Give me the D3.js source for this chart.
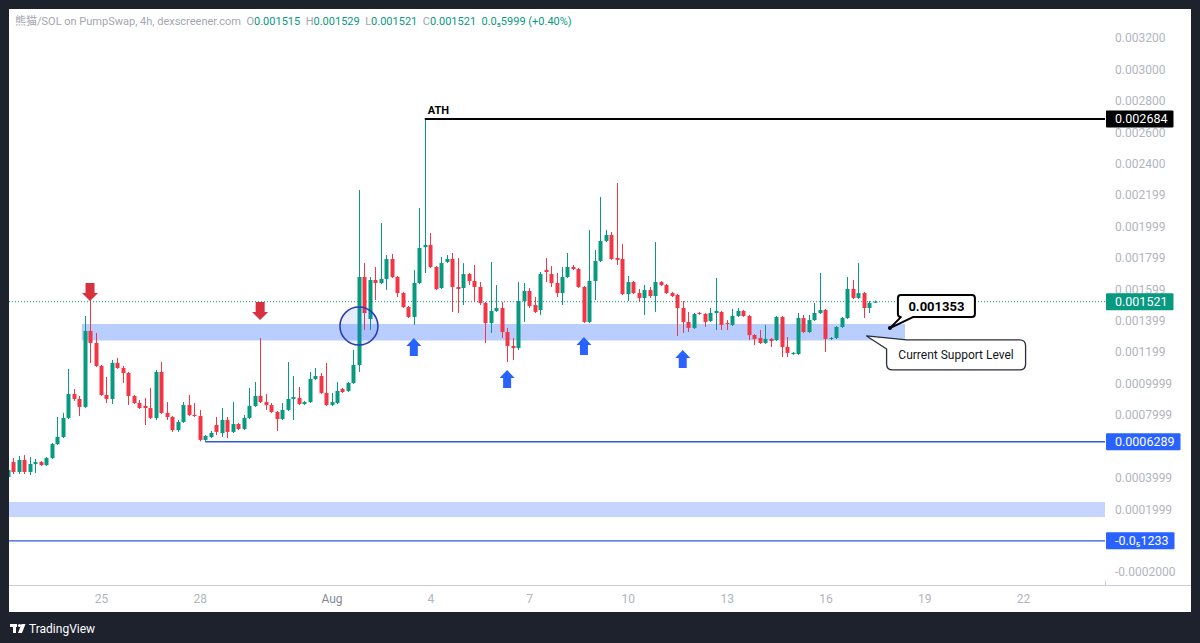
<!DOCTYPE html>
<html><head><meta charset="utf-8">
<script src="https://cdn.jsdelivr.net/npm/d3@7"></script>
<style>
html,body{margin:0;padding:0;background:#1e222d;}
svg{display:block;font-family:Roboto,"Noto Sans","Noto Sans CJK SC",sans-serif;}
</style></head>
<body><svg id="chart" width="1200" height="643"></svg>
<script>
// ---------- DATA (prices in millionths of SOL; UNIT converts) ----------
const UNIT = 1e-6;
const firstCandleUTC = [2025, 6, 22, 4];     // 22 Jul 2025 04:00, 4h candles
const candleHours = 4;

const opens = [405,500,437,513,437,488,500,481,526,615,
660,781,933,902,851,1335,1258,1112,927,902,
1131,1099,1067,921,876,857,844,781,1074,813,
787,704,755,863,800,793,641,660,736,685,
768,692,742,711,781,857,921,882,863,819,
774,832,902,908,870,882,1029,1048,940,863,
876,965,953,1004,1118,1678,1411,1659,1640,1666,
1793,1678,1576,1487,1424,1640,1869,1882,1742,1608,
1774,1793,1615,1608,1697,1653,1615,1513,1385,1462,
1481,1328,1239,1226,1526,1589,1500,1468,1723,1697,
1640,1576,1678,1742,1729,1615,1392,1653,1780,1908,
1946,1799,1793,1570,1646,1576,1545,1595,1557,1646,
1627,1576,1564,1481,1392,1354,1449,1443,1398,1449,
1456,1385,1373,1430,1462,1430,1309,1290,1258,1284,
1277,1424,1233,1188,1188,1417,1328,1404,1449,1468,
1284,1290,1360,1417,1602,1545,1576,1481,1515];

const highs = [469,526,539,545,532,520,507,532,621,787,
813,1093,965,921,1430,1532,1322,1118,1042,1150,
1163,1112,1074,927,895,908,972,1086,1137,882,
793,768,882,927,876,832,672,698,787,844,
787,882,749,800,972,1010,1290,933,876,825,
876,1137,1048,978,889,1074,1099,1067,1131,940,
1010,972,1010,1214,2232,1767,1678,1742,2022,1818,
1825,1685,1583,1494,1723,2118,2684,1958,1748,1806,
1818,1831,1799,1767,1704,1755,1646,1519,1774,1627,
1519,1354,1290,1646,1640,1608,1551,1710,1799,1748,
1704,1742,1831,1755,1736,1621,1978,1850,2188,1978,
1965,2277,1889,1685,1653,1602,1627,1615,1901,1653,
1634,1583,1570,1526,1456,1449,1456,1449,1481,1672,
1462,1404,1475,1481,1468,1437,1315,1341,1373,1290,
1430,1430,1296,1201,1449,1437,1437,1513,1704,1475,
1296,1366,1424,1678,1659,1767,1583,1526,1529];

const lows = [392,424,424,424,418,430,475,475,520,609,
653,774,889,793,844,1131,1105,921,876,870,
1093,1004,863,870,838,736,774,768,806,768,
692,692,749,793,787,632,628.9,653,672,660,
653,685,704,704,774,851,876,832,813,698,
768,825,768,863,863,876,1023,933,857,857,
870,940,946,997,1074,1341,1341,1532,1634,1595,
1672,1551,1481,1417,1373,1634,1704,1736,1595,1602,
1767,1456,1449,1500,1627,1519,1500,1258,1322,1456,
1290,1137,1150,1214,1392,1481,1449,1437,1646,1615,
1551,1500,1672,1723,1608,1385,1385,1532,1774,1901,
1787,1755,1564,1526,1570,1519,1437,1545,1456,1621,
1570,1551,1303,1322,1328,1347,1437,1360,1392,1341,
1341,1341,1366,1424,1424,1277,1245,1252,1252,1233,
1271,1169,1169,1182,1182,1322,1322,1398,1443,1201,
1277,1284,1354,1411,1538,1538,1417,1449,1515];

const closes = [449,437,513,437,488,500,481,526,615,660,
781,933,902,851,1335,1258,1112,927,902,1131,
1099,1067,921,876,844,844,781,1074,813,787,
704,755,863,800,793,641,666,685,692,768,
692,742,711,781,857,921,882,863,819,774,
832,902,914,870,882,1029,1048,940,863,882,
953,946,1004,1118,1678,1449,1659,1640,1666,1793,
1678,1576,1487,1424,1640,1863,1882,1742,1602,1767,
1793,1615,1602,1697,1653,1615,1513,1385,1462,1481,
1328,1239,1226,1526,1589,1494,1456,1697,1710,1640,
1576,1678,1742,1729,1615,1392,1653,1780,1908,1946,
1793,1787,1570,1646,1576,1545,1595,1557,1646,1627,
1576,1557,1481,1392,1354,1443,1443,1392,1449,1462,
1373,1379,1430,1462,1430,1309,1284,1258,1284,1271,
1424,1233,1195,1195,1417,1328,1404,1449,1468,1284,
1290,1360,1417,1602,1545,1576,1481,1513,1521];

// axis ticks
const xTickDates = ["2025-07-25","2025-07-28","2025-08-01","2025-08-04","2025-08-07","2025-08-10","2025-08-13","2025-08-16","2025-08-19","2025-08-22"];
const xTickLabels = ["25","28","Aug","4","7","10","13","16","19","22"];
const yTickValues = [0.0032,0.0030,0.0028,0.0026,0.0024,0.0022,0.0020,0.0018,0.0016,0.0014,0.0012,0.0010,0.0008,0.0004,0.0002,-0.0002];
const yTickLabels = ["0.003200","0.003000","0.002800","0.002600","0.002400","0.002199","0.001999","0.001799","0.001599","0.001399","0.001199","0.0009999","0.0007999","0.0003999","0.0001999","-0.0002000"];

// annotations
const currentPrice = 0.001521;
const athPrice = 0.002684;
const athTime = "2025-08-03T20:00Z";
const lowLevel = 0.0006289;
const lowTime = "2025-07-28T04:00Z";
const zeroLevel = -0.000001233;
const supportZone = {top:0.001379, bottom:0.001274, from:"2025-07-24T10:00Z", to:"2025-08-18T10:00Z"};
const lowerZone = {top:0.000246, bottom:0.000150};
const circleMark = {t:"2025-08-01T20:00Z", p:0.001366};
const downArrows = [{t:"2025-07-24T16:00Z", p:0.001526},{t:"2025-07-29T20:00Z", p:0.001404}];
const upArrows = [{t:"2025-08-03T12:00Z", p:0.001290},{t:"2025-08-06T08:00Z", p:0.001086},{t:"2025-08-08T16:00Z", p:0.001296},{t:"2025-08-11T16:00Z", p:0.001214}];
const calloutPrice = {t:"2025-08-17T23:00Z", p:0.001353, label:"0.001353"};
const calloutSupport = {t:"2025-08-17T06:00Z", p:0.001303, label:"Current Support Level"};
const priceLabels = [
  {p:athPrice, text:"0.002684", bg:"#000000"},
  {p:currentPrice, text:"0.001521", bg:"#089981"},
  {p:lowLevel, text:"0.0006289", bg:"#2962ff"},
  {p:zeroLevel, text:"-0.0\u20851233", bg:"#2962ff"}
];
const headerParts = [
  {t:"熊猫/SOL on PumpSwap, 4h, dexscreener.com  ", c:"#a3a6af"},
  {t:"O", c:"#a3a6af"},{t:"0.001515  ", c:"#089981"},
  {t:"H", c:"#a3a6af"},{t:"0.001529  ", c:"#089981"},
  {t:"L", c:"#a3a6af"},{t:"0.001521  ", c:"#089981"},
  {t:"C", c:"#a3a6af"},{t:"0.001521  ", c:"#089981"},
  {t:"0.0\u20855999 (+0.40%)", c:"#089981"}
];

// ---------- BUILD ----------
const UP = "#089981", DOWN = "#f23645";
const t0 = Date.UTC(...firstCandleUTC);
const candles = opens.map((o,i)=>({
  t:new Date(t0 + i*candleHours*3600e3),
  o:o*UNIT, h:highs[i]*UNIT, l:lows[i]*UNIT, c:closes[i]*UNIT
}));

const svg = d3.select("#chart");
const panel = {x:9, y:9, w:1182, h:603};
const plot = {left:9, right:1105, top:9, bottom:585};

const x = d3.scaleUtc()
  .domain([new Date("2025-07-25T00:00Z"), new Date("2025-08-22T00:00Z")])
  .range([101, 1023]);
const y = d3.scaleLinear().domain([-0.0002, 0.0032]).range([572, 38]);
const T = s => new Date(s);

svg.append("rect").attr("width",1200).attr("height",643).attr("fill","#1e222d");
svg.append("rect").attr("x",panel.x).attr("y",panel.y).attr("width",panel.w).attr("height",panel.h).attr("fill","#ffffff");

svg.append("defs").append("clipPath").attr("id","plotclip").append("rect")
  .attr("x",plot.left).attr("y",plot.top).attr("width",plot.right-plot.left).attr("height",plot.bottom-plot.top);
const g = svg.append("g").attr("clip-path","url(#plotclip)");

// zones
g.append("rect").attr("x",plot.left).attr("width",plot.right-plot.left)
  .attr("y",y(lowerZone.top)).attr("height",y(lowerZone.bottom)-y(lowerZone.top))
  .attr("fill","rgba(41,98,255,0.27)");
g.append("rect").attr("x",x(T(supportZone.from))).attr("width",x(T(supportZone.to))-x(T(supportZone.from)))
  .attr("y",y(supportZone.top)).attr("height",y(supportZone.bottom)-y(supportZone.top))
  .attr("fill","rgba(41,98,255,0.32)");

// level lines
g.append("line").attr("x1",plot.left).attr("x2",plot.right).attr("y1",y(currentPrice)).attr("y2",y(currentPrice))
  .attr("stroke",UP).attr("stroke-width",1).attr("stroke-dasharray","1,2");
g.append("line").attr("x1",x(T(lowTime))).attr("x2",plot.right).attr("y1",y(lowLevel)).attr("y2",y(lowLevel))
  .attr("stroke","#2f5bd6").attr("stroke-width",1.5);
g.append("line").attr("x1",plot.left).attr("x2",plot.right).attr("y1",y(zeroLevel)).attr("y2",y(zeroLevel))
  .attr("stroke","#2f5bd6").attr("stroke-width",1.2);

// candles
const bw = 4;
const cg = g.append("g");
cg.selectAll("line.wick").data(candles).join("line").attr("class","wick")
  .attr("x1",d=>Math.round(x(d.t))+0.5).attr("x2",d=>Math.round(x(d.t))+0.5)
  .attr("y1",d=>y(d.h)).attr("y2",d=>y(d.l))
  .attr("stroke",d=>d.c>=d.o?UP:DOWN).attr("stroke-width",1);
cg.selectAll("rect.body").data(candles).join("rect").attr("class","body")
  .attr("x",d=>Math.round(x(d.t))+0.5-bw/2).attr("width",bw)
  .attr("y",d=>y(Math.max(d.o,d.c)))
  .attr("height",d=>Math.max(1,Math.abs(y(d.o)-y(d.c))))
  .attr("fill",d=>d.c>=d.o?UP:DOWN);

// ATH line
g.append("line").attr("x1",x(T(athTime))).attr("x2",plot.right).attr("y1",y(athPrice)).attr("y2",y(athPrice))
  .attr("stroke","#000").attr("stroke-width",2);
g.append("text").attr("x",x(T(athTime))+3).attr("y",y(athPrice)-5).text("ATH")
  .attr("font-size",11).attr("font-weight",700).attr("fill","#000");

// circle
g.append("circle").attr("cx",x(T(circleMark.t))).attr("cy",y(circleMark.p)).attr("r",19)
  .attr("fill","rgba(41,98,255,0.12)").attr("stroke","#2a3db5").attr("stroke-width",1.6);

// arrows
function downArrow(cx,tip){
  return `M${cx-4.5},${tip-18}L${cx+4.5},${tip-18}L${cx+4.5},${tip-8}L${cx+8},${tip-8}L${cx},${tip}L${cx-8},${tip-8}L${cx-4.5},${tip-8}Z`;
}
function upArrow(cx,tip){
  return `M${cx},${tip}L${cx+7.5},${tip+8}L${cx+4},${tip+8}L${cx+4},${tip+18}L${cx-4},${tip+18}L${cx-4},${tip+8}L${cx-7.5},${tip+8}Z`;
}
g.selectAll("path.da").data(downArrows).join("path").attr("class","da")
  .attr("d",d=>downArrow(x(T(d.t)),y(d.p))).attr("fill","#d9303e");
g.selectAll("path.ua").data(upArrows).join("path").attr("class","ua")
  .attr("d",d=>upArrow(x(T(d.t)),y(d.p))).attr("fill","#2962ff");

// callout: price
{
  const px = x(T(calloutPrice.t)), py = y(calloutPrice.p);
  const bx = px+8, by = py-33, w = 77, h = 22, r = 3;
  const d = `M${bx+r},${by}H${bx+w-r}Q${bx+w},${by} ${bx+w},${by+r}V${by+h-r}Q${bx+w},${by+h} ${bx+w-r},${by+h}H${bx+15}L${px},${py}L${bx+3},${by+h}H${bx+r}Q${bx},${by+h} ${bx},${by+h-r}V${by+r}Q${bx},${by} ${bx+r},${by}Z`;
  svg.append("path").attr("d",d).attr("fill","#fff").attr("stroke","#000").attr("stroke-width",2).attr("stroke-linejoin","round");
  svg.append("circle").attr("cx",px).attr("cy",py).attr("r",2).attr("fill","#000");
  svg.append("text").attr("x",bx+w/2).attr("y",by+h/2+4.5).attr("text-anchor","middle")
    .attr("font-size",13).attr("font-weight",700).attr("fill","#000").text(calloutPrice.label);
}
// callout: support
{
  const px = x(T(calloutSupport.t)), py = y(calloutSupport.p);
  const bx = px+20, by = py+4, w = 139, h = 30, r = 6;
  const d = `M${bx+r+14},${by}H${bx+w-r}Q${bx+w},${by} ${bx+w},${by+r}V${by+h-r}Q${bx+w},${by+h} ${bx+w-r},${by+h}H${bx+r}Q${bx},${by+h} ${bx},${by+h-r}V${by+9}L${px},${py}Z`;
  svg.append("path").attr("d",d).attr("fill","#fff").attr("stroke","#2a2e39").attr("stroke-width",1.3).attr("stroke-linejoin","round");
  svg.append("text").attr("x",bx+w/2).attr("y",by+h/2+4.5).attr("text-anchor","middle")
    .attr("font-size",12).attr("fill","#131722").text(calloutSupport.label);
}

// x axis
svg.append("line").attr("x1",panel.x).attr("x2",panel.x+panel.w).attr("y1",plot.bottom+0.5).attr("y2",plot.bottom+0.5)
  .attr("stroke","#c9ccd4").attr("stroke-width",1);
svg.append("line").attr("x1",plot.right+0.5).attr("x2",plot.right+0.5).attr("y1",plot.bottom-4).attr("y2",plot.bottom)
  .attr("stroke","#c9ccd4");
const xAxis = d3.axisBottom(x).tickValues(xTickDates.map(s=>new Date(s+"T00:00Z")))
  .tickFormat((d,i)=>xTickLabels[i]).tickSize(0).tickPadding(9);
const xa = svg.append("g").attr("transform",`translate(0,${plot.bottom})`).call(xAxis);
xa.select(".domain").remove();
xa.selectAll("text").attr("font-size",12).attr("font-family","Roboto,sans-serif")
  .attr("fill",(d,i)=>xTickLabels[i]==="Aug"?"#868993":"#b2b5be");

// y axis
const yAxis = d3.axisRight(y).tickValues(yTickValues).tickFormat((d,i)=>yTickLabels[i]).tickSize(0).tickPadding(9);
const ya = svg.append("g").attr("transform",`translate(${plot.right+1},0)`).call(yAxis);
ya.select(".domain").remove();
ya.selectAll("text").attr("font-size",12).attr("font-family","Roboto,sans-serif").attr("fill","#b2b5be");

// price labels on axis
priceLabels.forEach(pl=>{
  const gg = svg.append("g");
  const cy = y(pl.p);
  const tx = gg.append("text").attr("x",plot.right+10).attr("y",cy+4.3).attr("font-size",12.5)
    .attr("font-family","Roboto,sans-serif").attr("fill","#fff").text(pl.text);
  const tw = tx.node().getComputedTextLength();
  gg.insert("rect","text").attr("x",plot.right+1).attr("y",cy-8.5).attr("width",tw+15).attr("height",17)
    .attr("rx",1).attr("fill",pl.bg);
});

// header
const ht = svg.append("text").attr("x",15).attr("y",25).attr("font-size",11);
headerParts.forEach(p=>ht.append("tspan").attr("fill",p.c).attr("xml:space","preserve").text(p.t));
ht.attr("style","white-space:pre");

// TradingView footer
const lg = svg.append("g").attr("fill","#ffffff");
lg.append("rect").attr("x",10).attr("y",624).attr("width",7).attr("height",3);
lg.append("rect").attr("x",13).attr("y",624).attr("width",3).attr("height",9);
lg.append("circle").attr("cx",19.5).attr("cy",625.5).attr("r",1.6);
lg.append("path").attr("d","M21.5,624L25.5,624L22,633L18,633Z");
svg.append("text").attr("x",29).attr("y",633).attr("font-size",12).attr("fill","#ffffff").text("TradingView");
</script>
</body></html>
